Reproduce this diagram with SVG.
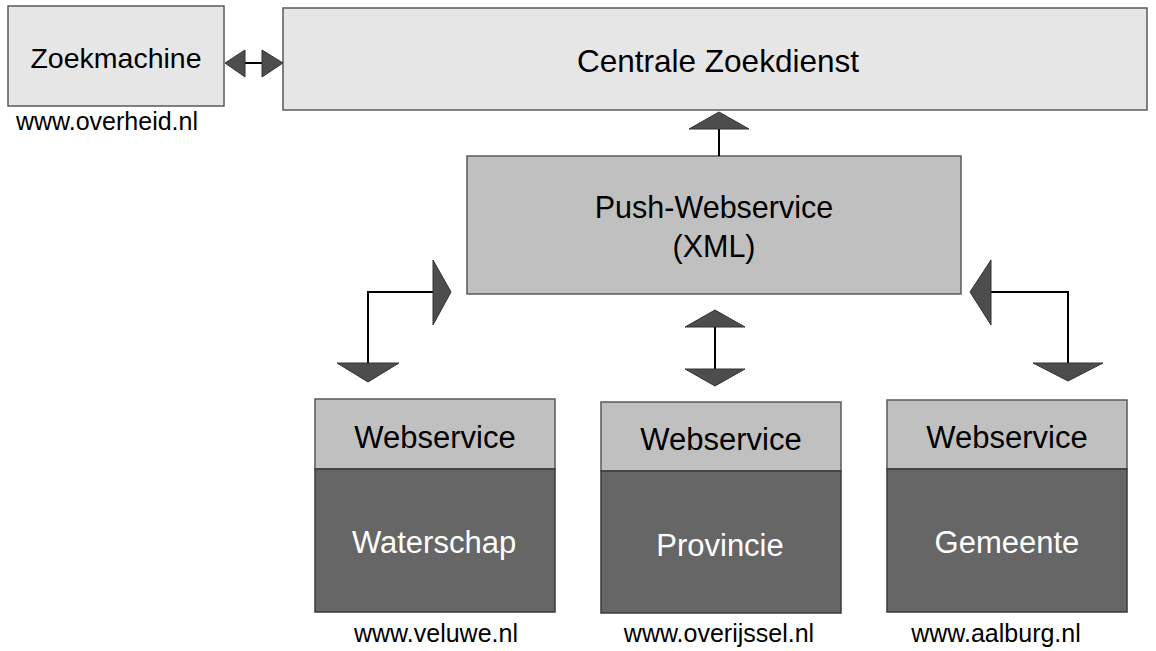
<svg xmlns="http://www.w3.org/2000/svg" width="1156" height="651" viewBox="0 0 1156 651">
<style>
text{font-family:"Liberation Sans",Arial,sans-serif;text-anchor:middle}
.light{fill:#e6e6e6;stroke:#5a5a5a;stroke-width:1.5}
.mid{fill:#c0c0c0;stroke:#5a5a5a;stroke-width:1.5}
.dark{fill:#666666;stroke:#3a3a3a;stroke-width:1.5}
.t{font-size:31px;fill:#000}
.tw{font-size:31px;fill:#fff}
.cap{font-size:25px;fill:#000}
.ln{fill:none;stroke:#000;stroke-width:2}
.ah{fill:#4d4d4d;stroke:#333;stroke-width:1}
</style>
<rect width="1156" height="651" fill="#fff"/>
<g id="zoekmachine">
<rect class="light" x="8" y="6" width="216" height="100"/>
<text class="t" x="116" y="68" style="font-size:28.5px">Zoekmachine</text>
<text class="cap" x="107" y="130">www.overheid.nl</text>
</g>
<g id="centrale-zoekdienst">
<rect class="light" x="283" y="8" width="864" height="102"/>
<text class="t" x="718" y="72" style="font-size:31.5px">Centrale Zoekdienst</text>
</g>
<g id="push-webservice">
<rect class="mid" x="467" y="156" width="494" height="138"/>
<text class="t" x="714" y="218" style="font-size:30.5px">Push-Webservice</text>
<text class="t" x="714" y="257" style="font-size:30.5px">(XML)</text>
</g>
<g id="waterschap">
<rect class="mid" x="315" y="399" width="240" height="70"/>
<rect class="dark" x="315" y="469" width="240" height="143"/>
<text class="t" x="435" y="448">Webservice</text>
<text class="tw" x="434" y="553">Waterschap</text>
<text class="cap" x="436" y="642">www.veluwe.nl</text>
</g>
<g id="provincie">
<rect class="mid" x="601" y="402" width="240" height="69"/>
<rect class="dark" x="601" y="471" width="240" height="142"/>
<text class="t" x="721" y="450">Webservice</text>
<text class="tw" x="720" y="556">Provincie</text>
<text class="cap" x="719" y="642">www.overijssel.nl</text>
</g>
<g id="gemeente">
<rect class="mid" x="887" y="400" width="240" height="69"/>
<rect class="dark" x="887" y="469" width="240" height="143"/>
<text class="t" x="1007" y="448">Webservice</text>
<text class="tw" x="1007" y="553">Gemeente</text>
<text class="cap" x="996" y="642">www.aalburg.nl</text>
</g>
<g id="connectors">
<line class="ln" x1="245" y1="63" x2="262" y2="63"/>
<polygon class="ah" points="225,63 245,50 245,77"/>
<polygon class="ah" points="283,63 262,50 262,77"/>
<line class="ln" x1="719" y1="129" x2="719" y2="156"/>
<polygon class="ah" points="719,112 689,129 749,129"/>
<polyline class="ln" points="433,292 368,292 368,363"/>
<polygon class="ah" points="451,292 433,260 433,325"/>
<polygon class="ah" points="368,382 337,363 399,363"/>
<line class="ln" x1="715" y1="327" x2="715" y2="369"/>
<polygon class="ah" points="715,310 685,327 745,327"/>
<polygon class="ah" points="715,386 685,369 745,369"/>
<polyline class="ln" points="991,292 1068,292 1068,363"/>
<polygon class="ah" points="970,292 991,260 991,325"/>
<polygon class="ah" points="1068,381 1033,363 1103,363"/>
</g>
</svg>
